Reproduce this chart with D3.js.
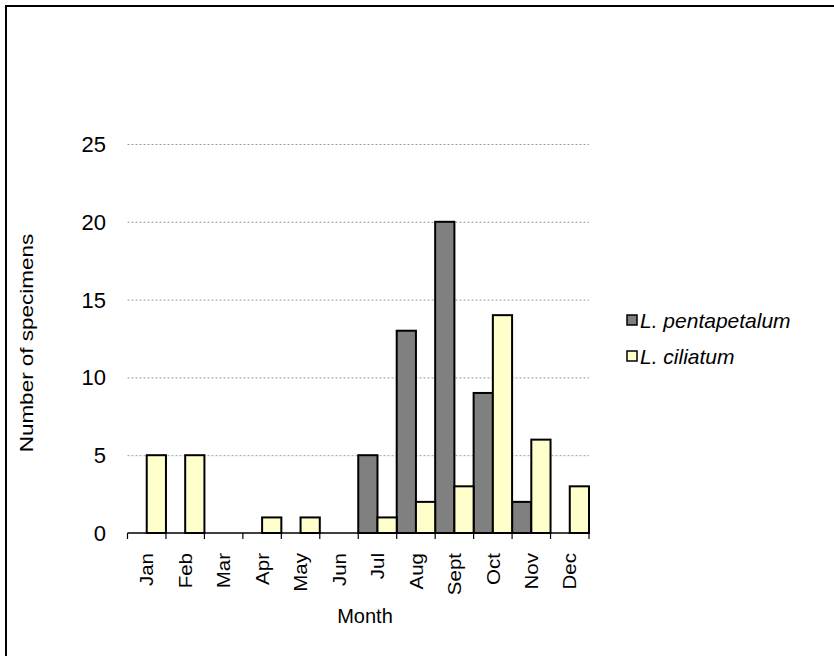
<!DOCTYPE html>
<html>
<head>
<meta charset="utf-8">
<script src="https://cdn.jsdelivr.net/npm/d3@7"></script>
<style>
  html, body { margin: 0; padding: 0; background: #fff; }
  svg { display: block; font-family: "Liberation Sans", Arial, sans-serif; }
</style>
</head>
<body>
<svg id="chart" width="834" height="656"></svg>
<script>
// Monthly specimen counts for two species
const months = ["Jan", "Feb", "Mar", "Apr", "May", "Jun", "Jul", "Aug", "Sept", "Oct", "Nov", "Dec"];
const pentapetalum = [0, 0, 0, 0, 0, 0, 5, 13, 20, 9, 2, 0];
const ciliatum = [5, 5, 0, 1, 1, 0, 1, 2, 3, 14, 6, 3];
const seriesNames = ["L. pentapetalum", "L. ciliatum"];
const seriesColors = ["#808080", "#FFFFCC"];
const yTicks = [0, 5, 10, 15, 20, 25];

const series = [pentapetalum, ciliatum];

const svg = d3.select("#chart");

// outer frame (top and left edges)
svg.append("path")
  .attr("d", "M6,656 V6 H834")
  .attr("fill", "none")
  .attr("stroke", "#000")
  .attr("stroke-width", 2);

const plot = { left: 127.5, right: 589, top: 144, bottom: 533 };

const x = d3.scaleBand()
  .domain(months)
  .range([plot.left, plot.right])
  .paddingInner(0)
  .paddingOuter(0);

const xSub = d3.scaleBand()
  .domain(d3.range(series.length))
  .range([0, x.bandwidth()])
  .padding(0);

const y = d3.scaleLinear()
  .domain([0, 25])
  .range([plot.bottom, plot.top]);

// dotted gridlines
svg.append("g")
  .selectAll("line")
  .data(yTicks.filter(d => d > 0))
  .join("line")
  .attr("x1", plot.left)
  .attr("x2", plot.right)
  .attr("y1", d => y(d) + 0.5)
  .attr("y2", d => y(d) + 0.5)
  .attr("stroke", "#9a9a9a")
  .attr("stroke-width", 1)
  .attr("stroke-dasharray", "2,2");

// y tick labels
svg.append("g")
  .selectAll("text")
  .data(yTicks)
  .join("text")
  .attr("x", 106)
  .attr("y", d => y(d))
  .attr("dy", "0.36em")
  .attr("text-anchor", "end")
  .attr("font-size", 22)
  .text(d => d);

// bars
const groups = svg.append("g")
  .selectAll("g")
  .data(series)
  .join("g")
  .attr("fill", (d, i) => seriesColors[i]);

groups.selectAll("rect")
  .data((d, i) => d.map((v, j) => ({ v, month: months[j], s: i })).filter(e => e.v > 0))
  .join("rect")
  .attr("x", d => x(d.month) + xSub(d.s))
  .attr("y", d => y(d.v))
  .attr("width", xSub.bandwidth())
  .attr("height", d => y(0) - y(d.v))
  .attr("stroke", "#000")
  .attr("stroke-width", 2);

// x axis with ticks between categories
const xAxis = svg.append("g");
xAxis.append("line")
  .attr("x1", plot.left)
  .attr("x2", plot.right)
  .attr("y1", plot.bottom)
  .attr("y2", plot.bottom)
  .attr("stroke", "#000")
  .attr("stroke-width", 1.5);

const boundaries = months.map(m => x(m)).concat([x(months[months.length - 1]) + x.bandwidth()]);
xAxis.selectAll("line.tick")
  .data(boundaries)
  .join("line")
  .attr("class", "tick")
  .attr("x1", d => d)
  .attr("x2", d => d)
  .attr("y1", plot.bottom)
  .attr("y2", plot.bottom + 6)
  .attr("stroke", "#000")
  .attr("stroke-width", 1.2);

xAxis.selectAll("text")
  .data(months)
  .join("text")
  .attr("transform", d => `translate(${x(d) + x.bandwidth() / 2},${plot.bottom + 20}) scale(0.9,1) rotate(-90)`)
  .attr("dy", "0.36em")
  .attr("text-anchor", "end")
  .attr("font-size", 20.5)
  .text(d => d);

// axis titles
svg.append("text")
  .attr("x", 365)
  .attr("y", 623)
  .attr("text-anchor", "middle")
  .attr("font-size", 20)
  .text("Month");

svg.append("text")
  .attr("transform", "translate(33,343) scale(0.8,1) rotate(-90)")
  .attr("text-anchor", "middle")
  .attr("font-size", 22.5)
  .text("Number of specimens");

// legend
const legend = svg.append("g")
  .selectAll("g")
  .data(seriesNames)
  .join("g")
  .attr("transform", (d, i) => `translate(627,${320 + i * 36})`);

legend.append("rect")
  .attr("x", 0)
  .attr("y", -5)
  .attr("width", 10)
  .attr("height", 10)
  .attr("fill", (d, i) => seriesColors[i])
  .attr("stroke", "#000")
  .attr("stroke-width", 1.5);

legend.append("text")
  .attr("x", 13)
  .attr("dy", "0.36em")
  .attr("font-size", 21)
  .attr("font-style", "italic")
  .text(d => d);
</script>
</body>
</html>
